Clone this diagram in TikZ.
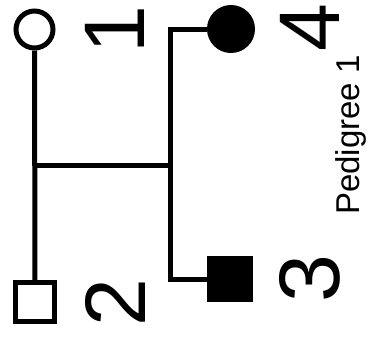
\documentclass[tikz,border=0pt]{standalone}
\usepackage{fontspec}
\setmainfont{Liberation Sans}
\usetikzlibrary{positioning}

\begin{document}
\begin{tikzpicture}[
    x=1pt, y=-1pt,
    line width=5pt,
    female/.style={circle, draw=black, line width=5pt, minimum size=37pt, inner sep=0pt},
    male/.style={rectangle, draw=black, line width=5pt, minimum size=39pt, inner sep=0pt},
    affected/.style={fill=black},
    num/.style={rotate=90, inner sep=0pt, font=\fontsize{86}{86}\selectfont},
    every node/.style={font=\large}
]
\useasboundingbox (0,0) rectangle (372,338);

% Parents
\node[female] (p1) at (34.5,29.5) {};
\node[male] (p2) at (35,302) {};

% Children
\node[female, affected, minimum size=43pt] (p4) at (231,29) {};
\node[male, affected, minimum size=41pt] (p3) at (229.5,279) {};

% Individual numbers
\node[num] (n1) at (115,30) {1};
\node[num] (n2) at (115,303) {2};
\node[num] (n4) at (310,28) {4};
\node[num] (n3) at (310,279) {3};

% Title
\node[rotate=90, font=\fontsize{33}{33}\selectfont] (title) at (351,135) {Pedigree 1};

% Lines
\coordinate (mate) at (35,165);
\coordinate (sibs) at (170,165);
\draw (p1) -- (p2);
\draw (mate) -- (sibs);
\draw[line join=miter] (p4) -| (sibs) |- (p3);

\end{tikzpicture}
\end{document}
